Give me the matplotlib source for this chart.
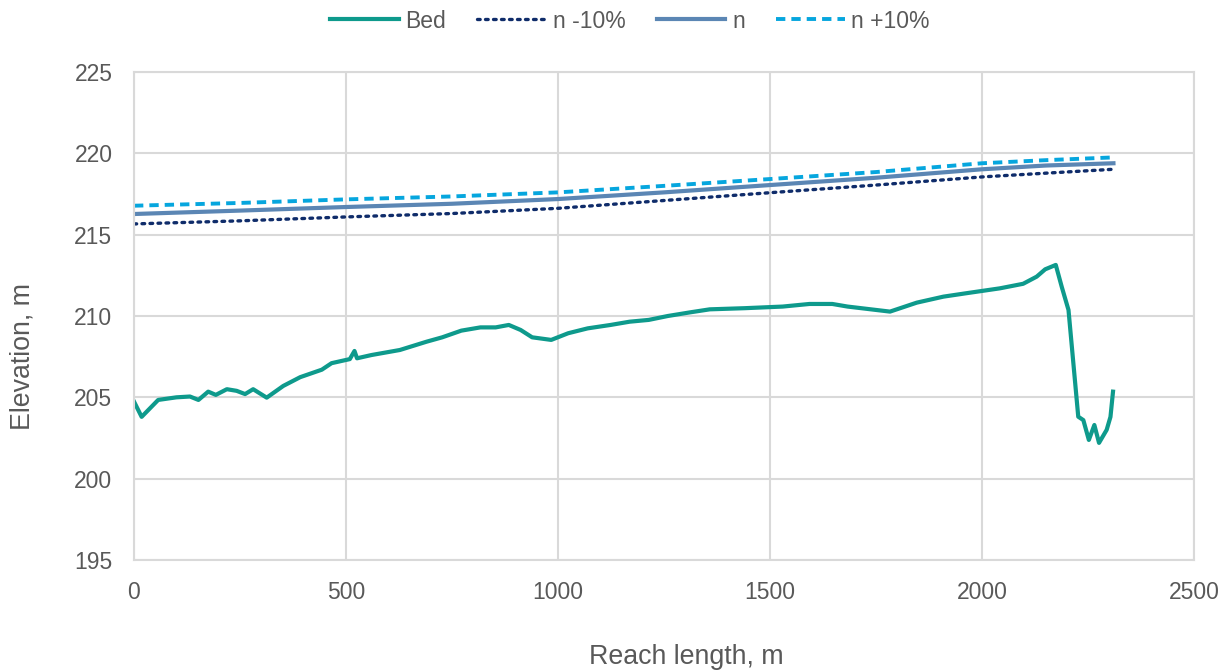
import matplotlib.pyplot as plt

plt.rcParams['font.family'] = ['Liberation Sans', 'DejaVu Sans']

# bed profile
bed_x = [0, 18, 57, 100, 132, 152, 175, 193, 219, 242, 262, 281, 313, 352, 392, 443, 466, 509,
         520, 526, 560, 627, 690, 727, 772, 817, 853, 884, 912, 939, 984, 1024, 1070, 1124,
         1169, 1214, 1259, 1313, 1358, 1440, 1530, 1593, 1647, 1683, 1783, 1846, 1909, 1963,
         2042, 2097, 2129, 2149, 2174, 2188, 2204, 2227, 2239, 2252, 2265, 2276, 2294, 2303, 2309]
bed_y = [204.74, 203.8, 204.84, 205.0, 205.05, 204.84, 205.35, 205.15, 205.5, 205.4, 205.2, 205.5,
         204.98, 205.7, 206.24, 206.7, 207.1, 207.35, 207.85, 207.4, 207.6, 207.91, 208.42, 208.69,
         209.1, 209.3, 209.3, 209.45, 209.14, 208.69, 208.53, 208.94, 209.24, 209.45, 209.65,
         209.76, 210.0, 210.23, 210.41, 210.48, 210.58, 210.74, 210.74, 210.58, 210.27, 210.82,
         211.19, 211.4, 211.7, 211.98, 212.42, 212.87, 213.14, 211.8, 210.37, 203.81, 203.6,
         202.38, 203.3, 202.2, 203.0, 203.8, 205.35]

# water surface for the three roughness values
ws_x = [0, 250, 500, 750, 1000, 1250, 1500, 1750, 2000, 2150, 2310]
n_minus = [215.66, 215.85, 216.09, 216.3, 216.62, 217.1, 217.58, 218.05, 218.55, 218.78, 219.02]
n_base = [216.27, 216.48, 216.7, 216.9, 217.19, 217.6, 218.05, 218.5, 219.02, 219.25, 219.39]
n_plus = [216.78, 216.95, 217.17, 217.35, 217.6, 218.0, 218.42, 218.85, 219.39, 219.58, 219.75]

fig = plt.figure(figsize=(12.28, 6.72), dpi=100)
ax = fig.add_axes([134 / 1228, 1 - 560 / 672, 1060 / 1228, 488 / 672])

ax.plot(bed_x, bed_y, color='#0E9A8C', lw=3.0, label='Bed', solid_joinstyle='round')
ax.plot(ws_x, n_minus, color='#0F2C6A', lw=2.4, ls=(0, (0.8, 1.6)), dash_capstyle='round', label='n -10%')
ax.plot(ws_x, n_base, color='#5B86B4', lw=3.0, label='n')
ax.plot(ws_x, n_plus, color='#06A6DE', lw=2.8, ls=(0, (2.4, 1.55)), label='n +10%')

ax.set_xlim(0, 2500)
ax.set_ylim(195, 225)
ax.set_xticks(range(0, 2501, 500))
ax.set_yticks(range(195, 226, 5))
ax.grid(True, color='#D9D9D9', lw=1.5)
ax.set_axisbelow(True)
for s in ax.spines.values():
    s.set_color('#D9D9D9')
    s.set_linewidth(1.5)
ax.tick_params(length=0, labelsize=16.5, labelcolor='#595959')
ax.tick_params(axis='x', pad=15)
ax.tick_params(axis='y', pad=15.5)

fig.text(686 / 1228, 1 - 657 / 672, 'Reach length, m', ha='center', va='center', fontsize=19.3, color='#595959')
fig.text(23 / 1228, 1 - 357 / 672, 'Elevation, m', ha='center', va='center', rotation=90, fontsize=19.3, color='#595959')

fig.legend(loc='center', bbox_to_anchor=(0.513, 1 - 21 / 672), ncol=4, frameon=False,
           fontsize=16.5, labelcolor='#595959', handlelength=3.0, handletextpad=0.3, columnspacing=1.35)

fig.savefig('out.png', dpi=100)
